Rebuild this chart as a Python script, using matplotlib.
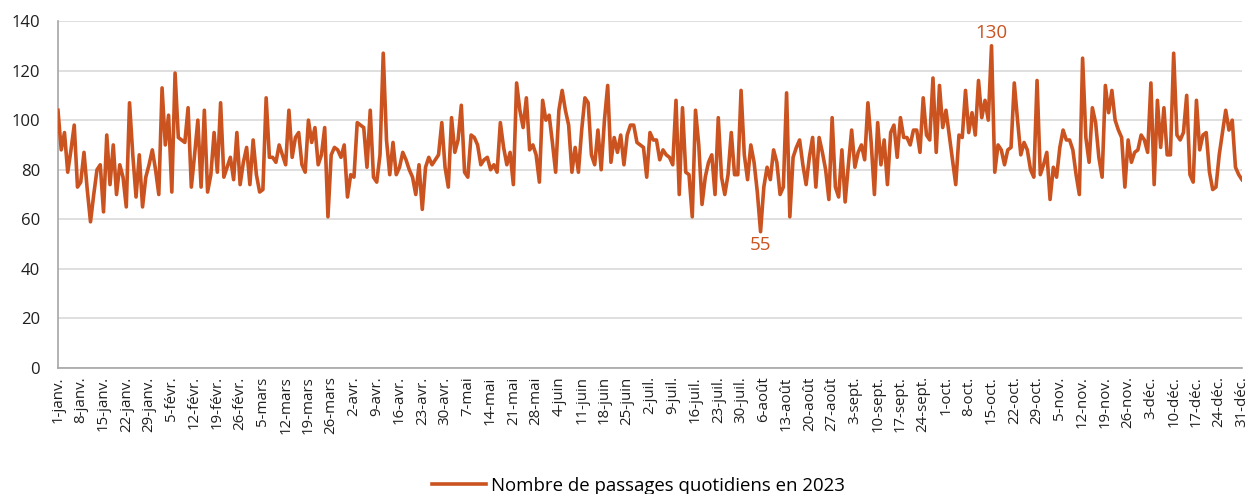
import matplotlib
matplotlib.use("Agg")
import matplotlib.pyplot as plt
import pandas as pd

plt.rcParams['font.family'] = ['Open Sans', 'DejaVu Sans']

# ---- data -------------------------------------------------------------
months_fr = ['janv.', 'févr.', 'mars', 'avr.', 'mai', 'juin',
             'juil.', 'août', 'sept.', 'oct.', 'nov.', 'déc.']
dates = pd.date_range('2023-01-01', '2023-12-31', freq='D')

passages = [
    # janv. 1 - févr. 5
    104, 88, 95, 79, 88, 98, 73, 75, 87, 72, 59, 70, 80, 82, 63, 94, 74, 90,
    70, 82, 77, 65, 107, 86, 69, 86, 65, 77, 82, 88, 80, 70, 113, 90, 102, 71,
    # févr. 6 - mars 14
    119, 93, 92, 91, 105, 73, 86, 100, 73, 104, 71, 78, 95, 79, 107, 77, 81,
    85, 76, 95, 74, 83, 89, 74, 92, 78, 71, 72, 109, 85, 85, 83, 90, 86, 82,
    104, 85,
    # mars 15 - avr. 19
    93, 95, 82, 79, 100, 91, 97, 82, 86, 97, 61, 86, 89, 88, 85, 90, 69, 78,
    77, 99, 98, 97, 81, 104, 77, 75, 86, 127, 92, 78, 91, 78, 81, 87, 84, 80,
    # avr. 20 - mai 27
    77, 70, 82, 64, 81, 85, 82, 84, 86, 99, 81, 73, 101, 87, 92, 106, 79, 77,
    94, 93, 90, 82, 84, 85, 80, 82, 79, 99, 89, 82, 87, 74, 115, 104, 97, 109,
    88, 90,
    # mai 28 - juil. 1
    86, 75, 108, 100, 102, 91, 79, 104, 112, 104, 98, 79, 89, 79, 96, 109,
    107, 86, 82, 96, 80, 100, 114, 83, 93, 87, 94, 82, 94, 98, 98, 91, 90,
    89, 77,
    # juil. 2 - août 8
    95, 92, 92, 84, 88, 86, 85, 82, 108, 70, 105, 79, 78, 61, 104, 90, 66,
    77, 83, 86, 70, 101, 77, 70, 78, 95, 78, 78, 112, 86, 76, 90, 83, 71, 55,
    73, 81, 76,
    # août 9 - sept. 13
    88, 83, 70, 73, 111, 61, 85, 89, 92, 82, 74, 85, 93, 73, 93, 87, 80, 68,
    101, 73, 69, 88, 67, 82, 96, 81, 87, 90, 84, 107, 91, 70, 99, 82, 92, 74,
    # sept. 14 - oct. 18
    95, 98, 85, 101, 93, 93, 90, 96, 96, 87, 109, 94, 92, 117, 87, 114, 97,
    104, 94, 84, 74, 94, 93, 112, 95, 103, 94, 116, 101, 108, 100, 130, 79,
    90, 88,
    # oct. 19 - nov. 26
    82, 88, 89, 115, 100, 86, 91, 88, 80, 77, 116, 78, 82, 87, 68, 81, 77,
    89, 96, 92, 92, 88, 78, 70, 125, 93, 83, 105, 99, 85, 77, 114, 103, 112,
    100, 96, 93, 73, 92,
    # nov. 27 - déc. 16
    83, 87, 88, 94, 92, 87, 115, 74, 108, 89, 105, 86, 86, 127, 94, 92, 95,
    110, 78, 75,
    # déc. 17 - déc. 31
    108, 88, 94, 95, 79, 72, 73, 86, 95, 104, 96, 100, 81, 78, 76,
]

series_label = 'Nombre de passages quotidiens en 2023'
y_ticks = [0, 20, 40, 60, 80, 100, 120, 140]

# ---- styling ----------------------------------------------------------
line_color = '#CA5320'
text_color = '#1f1f1f'

fig = plt.figure(figsize=(12.52, 4.94), dpi=100)
ax = fig.add_axes([0.0463, 0.255, 0.9457, 0.7025])

x = list(range(len(passages)))
ax.plot(x, passages, color=line_color, lw=2.6, solid_joinstyle='round',
        label=series_label, zorder=3)

ax.set_xlim(0, len(passages) - 1)
ax.set_ylim(0, 140)
ax.set_yticks(y_ticks)
ax.tick_params(axis='y', length=0, labelsize=12, colors=text_color, pad=13)

tick_pos = list(range(0, len(passages), 7))
tick_lab = [f"{dates[i].day}-{months_fr[dates[i].month - 1]}" for i in tick_pos]
ax.set_xticks(tick_pos)
ax.set_xticklabels(tick_lab, rotation=90, fontsize=10.8, color=text_color)
ax.tick_params(axis='x', length=0, pad=6)

ax.grid(axis='y', color='#d9d9d9', lw=1.2, zorder=0)
for s in ['top', 'right']:
    ax.spines[s].set_visible(False)
ax.spines['left'].set_color('#a6a6a6')
ax.spines['bottom'].set_color('#a6a6a6')
ax.spines['left'].set_linewidth(1.2)
ax.spines['bottom'].set_linewidth(1.2)

# annotations for max / min
imax = passages.index(max(passages))
imin = passages.index(min(passages))
ax.annotate(str(max(passages)), (imax, max(passages)), xytext=(0, 3),
            textcoords='offset points', ha='center', va='bottom',
            color=line_color, fontsize=13.5)
ax.annotate(str(min(passages)), (imin, min(passages)), xytext=(0, -3),
            textcoords='offset points', ha='center', va='top',
            color=line_color, fontsize=13.5)

fig.legend(loc='lower center', bbox_to_anchor=(0.51, -0.035), frameon=False,
           fontsize=13.4, handlelength=2.9, handletextpad=0.3)

fig.savefig('out.png', dpi=100)
